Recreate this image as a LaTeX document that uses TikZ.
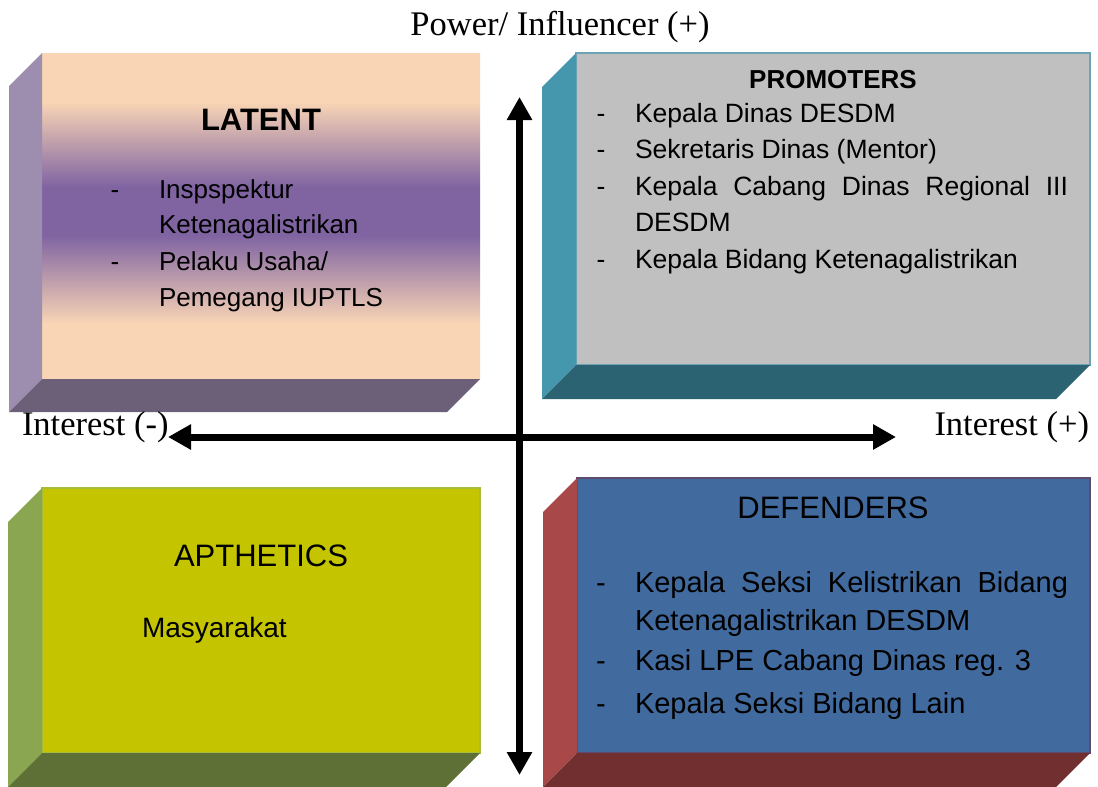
\documentclass[tikz,border=0pt]{standalone}
\usepackage{fontspec}
\newfontfamily\arial{Liberation Sans}
\newfontfamily\timesf{Liberation Serif}
\usetikzlibrary{arrows.meta,calc}
\definecolor{peach}{HTML}{F9D5B5}
\definecolor{lpurple}{HTML}{8064A2}
\definecolor{latleft}{HTML}{9D8EB0}
\definecolor{latbot}{HTML}{6B6078}
\definecolor{profront}{HTML}{C0C0C0}
\definecolor{proborder}{HTML}{6FA3B3}
\definecolor{proleft}{HTML}{4597AE}
\definecolor{probot}{HTML}{2C6373}
\definecolor{apfront}{HTML}{C4C400}
\definecolor{apborder}{HTML}{A9BC3A}
\definecolor{apleft}{HTML}{8AA650}
\definecolor{apbot}{HTML}{5E7035}
\definecolor{defront}{HTML}{416A9F}
\definecolor{deborder}{HTML}{5D4A6E}
\definecolor{defleft}{HTML}{A84848}
\definecolor{defbot}{HTML}{722F2F}
\pgfdeclareverticalshading{latentshade}{100bp}{color(0bp)=(peach); color(33.5bp)=(peach); color(47bp)=(lpurple); color(54.5bp)=(lpurple); color(67.5bp)=(peach); color(100bp)=(peach)}
\tikzset{
  face/.style={rectangle, inner sep=0pt, outer sep=0pt},
  txt/.style={inner sep=0pt, outer sep=0pt, anchor=base west},
  ctxt/.style={inner sep=0pt, outer sep=0pt, anchor=base},
  axislab/.style={inner sep=0pt, outer sep=0pt, font=\timesf\fontsize{34.5}{40}\selectfont},
  axisline/.style={line width=7pt, {Triangle[width=24pt,length=23pt]}-{Triangle[width=24pt,length=23pt]}},
}
\newcommand\boxsides[4]{% node, depth, left colour, bottom colour
  \fill[#3] (#1.north west) -- ++(-#2,#2) -- ($(#1.south west)+(-#2,#2)$) -- (#1.south west) -- cycle;
  \fill[#4] (#1.south west) -- ++(-#2,#2) -- ($(#1.south east)+(-#2,#2)$) -- (#1.south east) -- cycle;
}
\begin{document}
\begin{tikzpicture}[x=1pt,y=-1pt]
\useasboundingbox[fill=white] (0,0) rectangle (1098,787);

% front faces
\node[face, shading=latentshade, minimum width=438pt, minimum height=326pt] (latent) at (261,216) {};
\node[face, fill=profront, draw=proborder, line width=1.5pt, minimum width=514pt, minimum height=312pt] (promo) at (833,209) {};
\node[face, fill=apfront, draw=apborder, line width=1.5pt, minimum width=438pt, minimum height=265pt] (apth) at (261,620.5) {};
\node[face, fill=defront, draw=deborder, line width=1.5pt, minimum width=513pt, minimum height=275pt] (defend) at (833.5,615.5) {};

\boxsides{latent}{33}{latleft}{latbot}
\boxsides{promo}{34}{proleft}{probot}
\boxsides{apth}{34}{apleft}{apbot}
\boxsides{defend}{34}{defleft}{defbot}

% LATENT text
\begin{scope}[every node/.append style={font=\arial\fontsize{26}{30}\selectfont}]
\node[ctxt, font=\arial\bfseries\fontsize{31}{36}\selectfont] (latT) at (261,130) {LATENT};
\node[ctxt] (latd1) at (115,198) {-};
\node[txt] (lat1) at (159,198) {Inspspektur};
\node[txt] (lat2) at (159,233) {Ketenagalistrikan};
\node[ctxt] (latd2) at (115,270) {-};
\node[txt] (lat3) at (159,270) {Pelaku Usaha/};
\node[txt] (lat4) at (159,306) {Pemegang IUPTLS};
\end{scope}

% PROMOTERS text
\begin{scope}[every node/.append style={font=\arial\fontsize{26.5}{30}\selectfont}]
\node[ctxt, font=\arial\bfseries\fontsize{26}{30}\selectfont] (proT) at (833,88) {PROMOTERS};
\node[ctxt] (prod1) at (601,122) {-};
\node[txt] (pro1) at (635,122) {Kepala Dinas DESDM};
\node[ctxt] (prod2) at (601,158) {-};
\node[txt] (pro2) at (635,158) {Sekretaris Dinas (Mentor)};
\node[ctxt] (prod3) at (601,195) {-};
\node[txt] (pro3) at (635,195) {\hbox to 433pt{Kepala\hfil Cabang\hfil Dinas\hfil Regional\hfil III}};
\node[txt] (pro4) at (635,231) {DESDM};
\node[ctxt] (prod5) at (601,268) {-};
\node[txt] (pro5) at (635,268) {Kepala Bidang Ketenagalistrikan};
\end{scope}

% APTHETICS text
\node[ctxt, font=\arial\fontsize{31}{36}\selectfont] (apT) at (261,566) {APTHETICS};
\node[txt, font=\arial\fontsize{28}{32}\selectfont] (ap1) at (142,637) {Masyarakat};

% DEFENDERS text
\begin{scope}[every node/.append style={font=\arial\fontsize{29}{34}\selectfont}]
\node[ctxt, font=\arial\fontsize{31}{36}\selectfont] (defT) at (833,518) {DEFENDERS};
\node[ctxt] (defd1) at (601,592) {-};
\node[txt] (def1) at (635,592) {\hbox to 433pt{Kepala\hfil Seksi\hfil Kelistrikan\hfil Bidang}};
\node[txt] (def2) at (635,630) {Ketenagalistrikan DESDM};
\node[ctxt] (defd3) at (601,670) {-};
\node[txt] (def3) at (635,670) {Kasi LPE Cabang Dinas reg. 3};
\node[ctxt] (defd4) at (601,713) {-};
\node[txt] (def4) at (635,713) {Kepala Seksi Bidang Lain};
\end{scope}

% axis labels
\node[axislab, anchor=base] (powlab) at (560,35) {Power/ Influencer (+)};
\node[axislab, anchor=base west] (intneg) at (22,435) {Interest (-)};
\node[axislab, anchor=base east] (intpos) at (1089,435) {Interest (+)};

% axes
\coordinate (vtop) at (519.5,97);
\coordinate (vbot) at (519.5,775);
\coordinate (hleft) at (168,437);
\coordinate (hright) at (896,437);
\draw[axisline] (vbot) -- (vtop);
\draw[axisline] (hleft) -- (hright);
\end{tikzpicture}
\end{document}
